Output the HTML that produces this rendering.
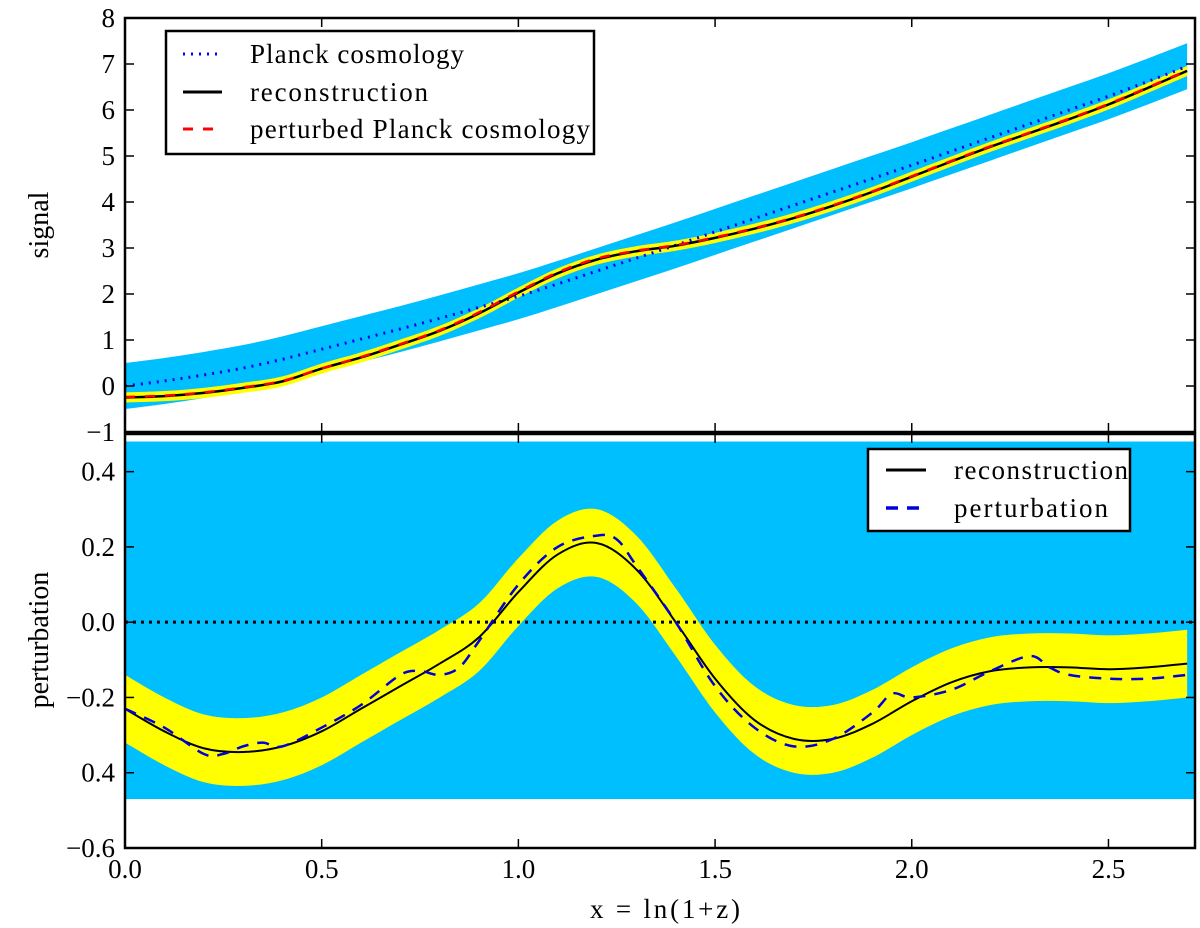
<!DOCTYPE html>
<html><head><meta charset="utf-8"><style>
html,body{margin:0;padding:0;background:#fff;}
svg{display:block;font-family:"Liberation Serif",serif;}
</style></head><body>
<svg id="chart" width="1200" height="928" viewBox="0 0 1200 928"></svg>
<script>
const xs = [0,0.1,0.2,0.3,0.4,0.5,0.6,0.7,0.8,0.9,1.0,1.1,1.2,1.3,1.4,1.5,1.6,1.7,1.8,1.9,2.0,2.1,2.2,2.3,2.4,2.5,2.6,2.7];
const planck = [0,0.11,0.24,0.39,0.58,0.8,1.02,1.24,1.47,1.71,1.95,2.22,2.5,2.78,3.06,3.35,3.64,3.93,4.22,4.51,4.8,5.1,5.4,5.7,6.0,6.3,6.62,6.95];
const reconTop = [-0.25,-0.22,-0.15,-0.04,0.1,0.38,0.62,0.9,1.2,1.58,2.03,2.45,2.75,2.93,3.05,3.22,3.42,3.65,3.92,4.22,4.55,4.88,5.2,5.5,5.8,6.12,6.48,6.85];
const perturbedTop = [-0.24,-0.21,-0.14,-0.03,0.11,0.38,0.63,0.91,1.21,1.6,2.05,2.47,2.77,2.94,3.06,3.23,3.43,3.66,3.93,4.23,4.56,4.89,5.21,5.51,5.81,6.13,6.49,6.86];
const reconBot = [-0.23,-0.29,-0.335,-0.345,-0.33,-0.29,-0.23,-0.17,-0.11,-0.04,0.08,0.18,0.21,0.14,0.0,-0.15,-0.26,-0.31,-0.31,-0.27,-0.21,-0.16,-0.13,-0.12,-0.12,-0.125,-0.12,-0.11];
const pertXs = [0,0.1,0.2,0.25,0.3,0.35,0.4,0.5,0.6,0.7,0.75,0.8,0.85,0.9,1.0,1.1,1.2,1.25,1.3,1.4,1.5,1.6,1.7,1.8,1.9,1.95,2.0,2.1,2.2,2.3,2.35,2.4,2.5,2.6,2.7];
const pertBot = [-0.23,-0.28,-0.35,-0.35,-0.33,-0.32,-0.33,-0.28,-0.22,-0.14,-0.13,-0.14,-0.12,-0.05,0.1,0.2,0.23,0.22,0.15,0.0,-0.17,-0.28,-0.33,-0.31,-0.24,-0.19,-0.2,-0.18,-0.13,-0.09,-0.12,-0.14,-0.15,-0.15,-0.14];
const topBlueHalf = 0.5, topYellowHalf = 0.11, botYellowHalf = 0.09;
const botBlueRange = [-0.47, 0.48];
const xTicks = [0,0.5,1.0,1.5,2.0,2.5];
const xTickLabels = ["0.0","0.5","1.0","1.5","2.0","2.5"];
const topTicks = [-1,0,1,2,3,4,5,6,7,8];
const topTickLabels = ["\u22121","0","1","2","3","4","5","6","7","8"];
const botTicks = [-0.6,-0.4,-0.2,0,0.2,0.4];
const botTickLabels = ["\u22120.6","0.4","\u22120.2","0.0","0.2","0.4"];

const NS="http://www.w3.org/2000/svg";
const svg=document.getElementById('chart');
const L=125,R=1195,T1=18,B1=432,T2=434,B2=848;
const X=v=>L+(v/2.72)*(R-L);
const Y1=v=>B1-(v+1)/9*(B1-T1);
const Y2=v=>B2-(v+0.6)/1.1*(B2-T2);
function mk(tag,attrs,parent){const e=document.createElementNS(NS,tag);for(const k in attrs)e.setAttribute(k,attrs[k]);(parent||svg).appendChild(e);return e;}
function smooth(pts){let d=`M${pts[0][0]},${pts[0][1]}`;for(let i=0;i<pts.length-1;i++){const p0=pts[i-1]||pts[i],p1=pts[i],p2=pts[i+1],p3=pts[i+2]||p2;d+=` C${p1[0]+(p2[0]-p0[0])/6},${p1[1]+(p2[1]-p0[1])/6} ${p2[0]-(p3[0]-p1[0])/6},${p2[1]-(p3[1]-p1[1])/6} ${p2[0]},${p2[1]}`;}return d;}
function band(xv,yv,h,Yf){const up=xv.map((x,i)=>[X(x),Yf(yv[i]+h)]);const dn=xv.map((x,i)=>[X(x),Yf(yv[i]-h)]).reverse();return smooth(up)+' L'+smooth(dn).slice(1)+' Z';}

mk('defs',{}).innerHTML='<clipPath id="c1"><rect x="125" y="18" width="1070" height="414"/></clipPath><clipPath id="c2"><rect x="125" y="434" width="1070" height="414"/></clipPath>';
const g1=mk('g',{'clip-path':'url(#c1)'});

let e;
e=mk('path',{d:band(xs,planck,topBlueHalf,Y1),fill:'#00bfff'},g1);

e=mk('path',{d:band(xs,reconTop,topYellowHalf,Y1),fill:'#ffff00'},g1);

e=mk('path',{d:smooth(xs.map((x,i)=>[X(x),Y1(planck[i])])),fill:'none',stroke:'#0000ff','stroke-width':3,'stroke-dasharray':'2 6'},g1);

e=mk('path',{d:smooth(xs.map((x,i)=>[X(x),Y1(reconTop[i])])),fill:'none',stroke:'#000','stroke-width':2.5},g1);

e=mk('path',{d:smooth(xs.map((x,i)=>[X(x),Y1(perturbedTop[i])])),fill:'none',stroke:'#ff0000','stroke-width':2.5,'stroke-dasharray':'10 10'},g1);


const g2=mk('g',{'clip-path':'url(#c2)'});

e=mk('rect',{x:L,y:Y2(botBlueRange[1]),width:R-L,height:Y2(botBlueRange[0])-Y2(botBlueRange[1]),fill:'#00bfff'},g2);

e=mk('path',{d:band(xs,reconBot,botYellowHalf,Y2),fill:'#ffff00'},g2);

e=mk('line',{x1:L,x2:R,y1:Y2(0),y2:Y2(0),stroke:'#000','stroke-width':3,'stroke-dasharray':'3 5'},g2);

e=mk('path',{d:smooth(xs.map((x,i)=>[X(x),Y2(reconBot[i])])),fill:'none',stroke:'#000','stroke-width':2},g2);

e=mk('path',{d:smooth(pertXs.map((x,i)=>[X(x),Y2(pertBot[i])])),fill:'none',stroke:'#0000dd','stroke-width':2.5,'stroke-dasharray':'12 9'},g2);


[[T1,B1],[T2,B2]].forEach(([t,b],k)=>{
  const r=mk('rect',{x:L,y:t,width:R-L,height:b-t,fill:'none',stroke:'#000','stroke-width':2.5});
  
  xTicks.forEach(v=>{mk('line',{x1:X(v),x2:X(v),y1:t,y2:t+9,stroke:'#000','stroke-width':1.5});mk('line',{x1:X(v),x2:X(v),y1:b,y2:b-9,stroke:'#000','stroke-width':1.5});});
});
topTicks.forEach((v,i)=>{mk('line',{x1:L,x2:L+9,y1:Y1(v),y2:Y1(v),stroke:'#000','stroke-width':1.5});mk('line',{x1:R,x2:R-9,y1:Y1(v),y2:Y1(v),stroke:'#000','stroke-width':1.5});
  const t=mk('text',{x:L-10,y:Y1(v)+9,'text-anchor':'end','font-size':27});t.textContent=topTickLabels[i];
  });
botTicks.forEach((v,i)=>{mk('line',{x1:L,x2:L+9,y1:Y2(v),y2:Y2(v),stroke:'#000','stroke-width':1.5});mk('line',{x1:R,x2:R-9,y1:Y2(v),y2:Y2(v),stroke:'#000','stroke-width':1.5});
  const t=mk('text',{x:L-10,y:Y2(v)+9,'text-anchor':'end','font-size':27});t.textContent=botTickLabels[i];
  });
xTicks.forEach((v,i)=>{const t=mk('text',{x:X(v),y:B2+30,'text-anchor':'middle','font-size':27});t.textContent=xTickLabels[i];
  });
</script>
<svg width="1200" height="928" style="position:absolute;left:0;top:0;font-family:'Liberation Serif',serif">
  <text x="590" y="918" font-size="27" textLength="150">x = ln(1+z)</text>
  <text transform="translate(48,225) rotate(-90)" text-anchor="middle" font-size="28">signal</text>
  <text transform="translate(48,640) rotate(-90)" text-anchor="middle" font-size="28">perturbation</text>
  <g>
    <rect x="166" y="31" width="428" height="123" fill="#fff" stroke="#000" stroke-width="2.5"/>
    <line x1="183" x2="222" y1="54" y2="54" stroke="#0000ff" stroke-width="3" stroke-dasharray="2 6"/>
    <text x="250" y="63" font-size="27" textLength="214">Planck cosmology</text>
    <line x1="183" x2="222" y1="92" y2="92" stroke="#000" stroke-width="3"/>
    <text x="250" y="101" font-size="27" textLength="178">reconstruction</text>
    <line x1="183" x2="222" y1="129" y2="129" stroke="#ff0000" stroke-width="3" stroke-dasharray="10 10"/>
    <text x="250" y="138" font-size="27" textLength="340">perturbed Planck cosmology</text>
  </g>
  <g>
    <rect x="868" y="449" width="262" height="82" fill="#fff" stroke="#000" stroke-width="2.5"/>
    <line x1="886" x2="926" y1="470" y2="470" stroke="#000" stroke-width="3"/>
    <text x="954" y="479" font-size="27" textLength="174">reconstruction</text>
    <line x1="886" x2="926" y1="508" y2="508" stroke="#0000dd" stroke-width="3.5" stroke-dasharray="12 9"/>
    <text x="954" y="517" font-size="27" textLength="154">perturbation</text>
  </g>
</svg>
</body></html>
